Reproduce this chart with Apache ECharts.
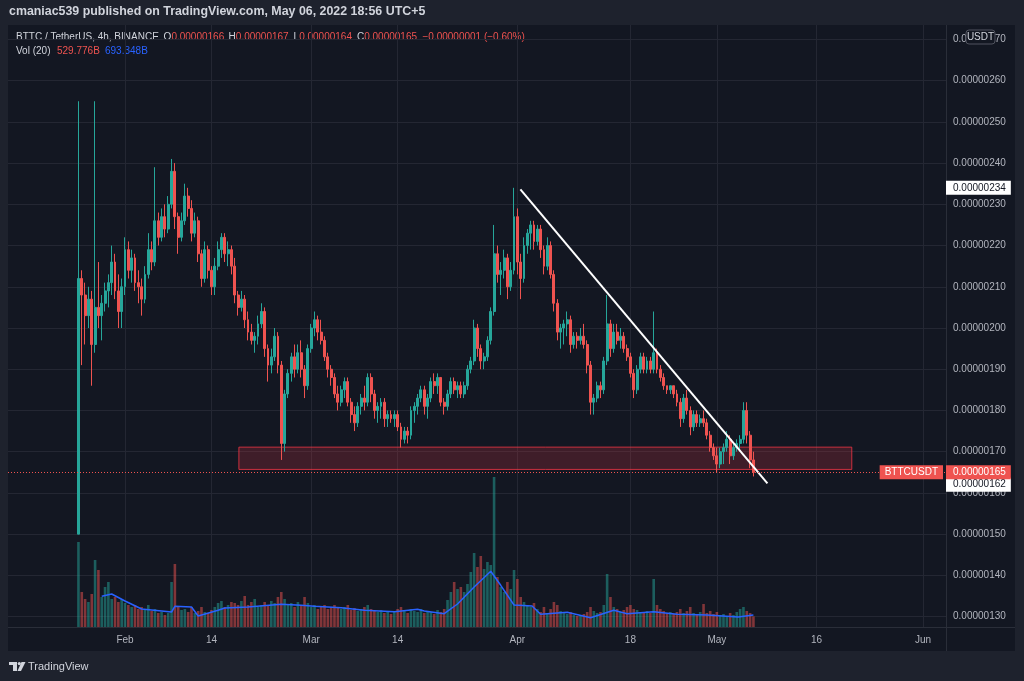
<!DOCTYPE html>
<html><head><meta charset="utf-8">
<script src="https://cdn.jsdelivr.net/npm/echarts@6/dist/echarts.min.js"></script>
<style>html,body{margin:0;padding:0;background:#1e222d;}#c{width:1024px;height:681px;}</style>
</head><body><div id="c"></div>
<script>
// ---- data (prices in units of 1e-9 USDT, i.e. 212 => 0.00000212) ----
const startTime = '2022-01-25 00:00';   // first candle open, 12h candles
const stepHours = 12;
const open = [150,212,208,203,207,196,205,203,206,209,211,216,209,204,210,219,214,217,211,210,207,213,219,216,226,222,227,224,230,238,227,222,226,232,229,223,226,218,212,219,214,210,215,219,222,218,219,215,208,205,207,202,199,197,198,201,204,195,191,193,198,191,172,184,189,193,190,194,190,186,195,200,202,199,197,193,190,188,184,182,185,187,182,179,177,181,183,182,188,184,180,181,182,178,179,178,179,176,173,175,174,180,181,183,185,181,183,187,186,188,182,181,184,187,185,186,184,186,190,192,200,195,192,193,197,204,218,213,214,217,210,214,227,216,212,220,223,225,221,224,219,215,220,213,206,199,200,201,202,196,198,197,198,196,191,182,183,186,185,192,201,195,199,197,198,195,193,189,185,190,193,190,192,190,194,190,188,186,185,186,184,182,178,183,180,176,179,177,178,177,174,171,169,167,170,171,173,169,171,172,173,180,174,168];
const close = [212,208,203,207,196,205,203,206,209,211,216,209,204,210,219,214,217,211,210,207,213,219,216,226,222,227,224,230,238,227,222,226,232,229,223,226,218,212,219,214,210,215,219,222,218,219,215,208,205,207,202,199,197,198,201,204,195,191,193,198,191,172,184,189,193,190,194,190,186,195,200,202,199,197,193,190,188,184,182,185,187,182,179,177,181,183,182,188,184,180,181,182,178,179,178,179,176,173,175,174,180,181,183,185,181,183,187,186,188,182,181,184,187,185,186,184,186,190,192,200,195,192,193,197,204,218,213,214,217,210,214,227,216,212,220,223,225,221,224,219,215,220,213,206,199,200,201,202,196,198,197,198,196,191,182,183,186,185,192,201,195,199,197,198,195,193,189,185,190,193,190,192,190,194,190,188,186,185,186,184,182,178,183,180,176,179,177,178,177,174,171,169,167,170,171,173,169,171,172,173,180,174,168,165];
const high = [255,214,211,210,209,255,216,208,211,213,220,218,213,212,222,221,219,218,214,212,215,223,221,239,228,229,230,232,241,240,228,228,235,234,231,228,227,219,221,220,215,217,221,223,223,221,220,217,209,209,208,204,201,199,203,206,205,196,195,200,199,192,185,190,194,196,196,197,191,196,201,204,203,202,198,194,191,189,186,186,188,188,183,181,182,184,186,189,189,185,182,183,183,180,180,180,180,177,176,176,181,182,184,186,186,184,188,189,189,188,183,185,188,188,187,187,187,191,193,202,201,196,194,198,205,225,220,216,219,218,216,234,229,218,222,224,226,226,225,225,220,222,221,214,207,201,202,204,203,199,199,200,201,197,192,184,187,187,193,208,202,201,201,200,199,196,194,190,191,194,194,193,193,204,195,191,189,186,186,186,185,183,184,185,181,180,180,179,180,178,175,172,171,171,172,175,174,172,173,174,182,182,175,170];
const low = [150,191,196,200,186,194,200,197,204,205,208,207,200,200,208,212,211,209,206,203,206,212,214,215,220,221,222,223,229,224,218,221,225,227,221,222,216,210,211,212,208,208,214,217,216,215,213,206,203,204,200,197,196,194,196,200,193,187,189,192,189,168,170,183,187,188,189,188,183,185,194,198,197,196,192,188,186,183,180,181,183,181,177,175,176,179,180,181,182,178,177,178,176,176,177,176,175,171,172,172,173,177,179,182,179,178,182,184,184,181,179,180,183,184,183,183,183,185,189,191,193,190,190,192,196,203,211,208,212,207,209,213,213,207,211,218,219,219,220,217,213,214,212,204,197,195,196,198,194,195,195,196,195,189,179,179,182,183,184,191,193,194,196,195,194,192,188,183,184,189,189,189,189,189,189,187,185,184,184,183,181,176,177,179,174,175,176,176,176,173,170,168,165,166,167,170,167,168,170,170,172,172,166,164];
// volume, billions BTTC
const volume = [4250,1750,1400,1250,1650,3350,2850,1500,2000,2250,1400,1500,1250,1400,1200,1100,1000,1100,900,1000,850,1100,800,900,700,750,600,700,2250,3150,1000,850,900,750,1000,700,800,1000,750,700,850,1000,1200,1300,1000,1100,1250,1200,1100,1300,1550,1100,1250,1400,1000,1100,1250,1100,1300,1200,1500,1750,1400,1100,1200,1000,1250,1100,1500,1200,1000,1100,900,1000,1100,900,1000,1100,1000,900,1000,1100,850,950,800,900,1000,1100,900,800,750,850,700,800,650,750,900,1000,800,700,900,800,750,900,700,800,750,650,850,750,900,1350,1750,2250,1900,2000,1750,2150,2750,3700,3000,3550,2900,3250,3100,7500,2500,2000,1750,2250,1900,2850,2400,1500,1250,1100,1000,1200,900,750,1000,700,900,1250,1100,800,700,650,750,600,550,600,650,750,1000,800,700,750,1100,2650,1500,1000,900,750,850,1000,1100,900,850,750,700,800,700,2400,1100,900,800,700,750,650,750,900,700,800,1000,700,650,750,1150,700,800,650,750,600,650,550,700,600,750,900,1000,800,700,530];
// Vol MA(20)
const maTimes = ['2022-01-28 12:00','2022-01-30 00:00','2022-02-01 00:00','2022-02-03 12:00','2022-02-06 12:00','2022-02-08 00:00','2022-02-08 12:00','2022-02-11 00:00','2022-02-12 00:00','2022-02-15 00:00','2022-02-16 00:00','2022-02-19 12:00','2022-02-24 12:00','2022-02-27 12:00','2022-03-01 12:00','2022-03-05 12:00','2022-03-09 00:00','2022-03-13 12:00','2022-03-17 00:00','2022-03-18 00:00','2022-03-21 00:00','2022-03-23 00:00','2022-03-25 12:00','2022-03-28 00:00','2022-03-29 12:00','2022-03-31 12:00','2022-04-03 05:00','2022-04-04 12:00','2022-04-08 12:00','2022-04-12 00:00','2022-04-15 12:00','2022-04-17 12:00','2022-04-21 12:00','2022-04-25 00:00','2022-04-29 12:00','2022-05-04 05:00','2022-05-06 12:00'];
const maValues = [1535,1650,1300,900,800,750,1035,1000,550,835,950,1000,1135,1085,1035,965,835,765,885,800,665,1150,2000,2785,2085,1100,1050,635,735,465,835,665,765,635,600,500,600];
const tickDates = ['2022-02-01 00:00','2022-02-14 00:00','2022-03-01 00:00','2022-03-14 00:00','2022-04-01 00:00','2022-04-18 00:00','2022-05-01 00:00','2022-05-16 00:00','2022-06-01 00:00'];
const tickLabels = ['Feb','14','Mar','14','Apr','18','May','16','Jun'];
const zone = {start:'2022-02-18 03:00', end:'2022-05-21 07:00', low:165.7, high:171.1};
const trendStart = ['2022-04-01 11:00', 233.6];
const trendEnd = ['2022-05-08 14:30', 162.3];
const trendLabels = [234, 162];
const lastPrice = 165;
const legendOHLC = {O:'0.00000166', H:'0.00000167', L:'0.00000164', C:'0.00000165', chg:'−0.00000001 (−0.60%)'};
const legendVol = {vol:'529.776B', ma:'693.348B'};

// ---- helpers ----
function t(s){const [d,h]=s.split(' ');const [Y,M,D]=d.split('-').map(Number);const [hh,mm]=h.split(':').map(Number);return Date.UTC(Y,M-1,D,hh,mm);}
const fmtP = v => '0.00000' + v;
const axisMin = t('2022-01-14 09:44');
const axisMax = t('2022-06-04 11:00');
const tickTimes = tickDates.map(t);
const t0 = t(startTime);

const candles = [], vols = [];
for (let i = 0; i < close.length; i++) {
  const ts = t0 + i * stepHours * 3600000;
  candles.push([ts, open[i], close[i], low[i], high[i]]);
  vols.push({value:[ts, volume[i]], itemStyle:{color: close[i] >= open[i] ? 'rgba(38,166,154,0.5)' : 'rgba(239,83,80,0.5)'}});
}
const maData = maTimes.map((s,i)=>[t(s), maValues[i]]);

const FONT = 'Liberation Sans, Arial, sans-serif';
const GRID_C = '#242733';
const lbl = '#b2b5be';

const chart = echarts.init(document.getElementById('c'), null, {renderer:'canvas'});
const axisBox = (txt, bg, fg) => ({position:'right', distance:0, formatter: txt, backgroundColor:bg, color:fg, fontSize:10, fontFamily:FONT, padding:[2,5,1,7], lineHeight:11});

chart.setOption({
  animation:false,
  backgroundColor:'#131722',
  grid:[
    {left:8, right:78, top:25, bottom:54},
    {left:8, right:78, top:39.4, bottom:64.4}
  ],
  xAxis:[
    {type:'value', gridIndex:0, min:axisMin, max:axisMax, scale:true,
     axisLine:{show:false}, axisTick:{show:false, customValues:tickTimes},
     axisLabel:{customValues:tickTimes, formatter:(v)=>{const k=tickTimes.indexOf(v);return k>=0?tickLabels[k]:'';}, color:lbl, fontSize:10, fontFamily:FONT, margin:8},
     splitLine:{show:true, lineStyle:{color:GRID_C, width:1}}},
    {type:'value', gridIndex:1, min:axisMin, max:axisMax, scale:true, show:false, splitLine:{show:false}}
  ],
  yAxis:[
    {type:'value', gridIndex:0, min:0, max:30100, show:false, splitLine:{show:false}},
    {type:'value', gridIndex:1, position:'right', min:130, max:270, interval:10,
     axisLine:{show:false}, axisTick:{show:false},
     axisLabel:{formatter:fmtP, color:lbl, fontSize:10, fontFamily:FONT, margin:7},
     splitLine:{show:true, lineStyle:{color:GRID_C, width:1}}}
  ],
  series:[
    {type:'bar', name:'Volume', xAxisIndex:0, yAxisIndex:0, data:vols, barWidth:2.6, silent:true},
    {type:'line', name:'Vol MA', xAxisIndex:0, yAxisIndex:0, data:maData, symbol:'none', lineStyle:{color:'#2962ff', width:1.5}, silent:true},
    {type:'candlestick', name:'BTTCUSDT', xAxisIndex:1, yAxisIndex:1, data:candles, encode:{x:0, y:[1,2,3,4]},
     barWidth:2.4, silent:true,
     itemStyle:{color:'#26a69a', color0:'#ef5350', borderColor:'#26a69a', borderColor0:'#ef5350', borderWidth:1},
     markArea:{silent:true, itemStyle:{color:'rgba(242,54,69,0.2)', borderColor:'rgba(242,54,69,0.8)', borderWidth:1},
       data:[[{coord:[t(zone.start), zone.high]},{coord:[t(zone.end), zone.low]}]]},
     markLine:{silent:true, symbol:['none','none'], animation:false,
       data:[
         [{coord:[t(trendStart[0]), trendStart[1]], lineStyle:{color:'#ffffff', width:2, type:'solid'}, label:{show:false}},
          {coord:[t(trendEnd[0]), trendEnd[1]]}],
         {yAxis:lastPrice, lineStyle:{color:'#ef5350', width:1, type:[1,2]}, label:{show:false}}
       ]},
     markPoint:{silent:true, symbol:'rect', symbolSize:0, animation:false,
       data:[
         {coord:[axisMax, trendLabels[0]], label:axisBox(fmtP(trendLabels[0]), '#ffffff', '#131722')},
         {coord:[axisMax, trendLabels[1]], label:axisBox(fmtP(trendLabels[1]), '#ffffff', '#131722')},
         {coord:[axisMax, lastPrice], label:axisBox(fmtP(lastPrice), '#ef5350', '#ffffff')},
         {coord:[axisMax, lastPrice], label:{position:'left', distance:3, formatter:'BTTCUSDT', backgroundColor:'#ef5350', color:'#ffffff', fontSize:10, fontFamily:FONT, padding:[2,5,1,5], lineHeight:11}}
       ]}
    }
  ],
  graphic:[
    {type:'rect', shape:{x:0,y:0,width:1024,height:25}, style:{fill:'#1e222d'}, silent:true},
    {type:'rect', shape:{x:0,y:651,width:1024,height:30}, style:{fill:'#1e222d'}, silent:true},
    {type:'rect', shape:{x:0,y:25,width:8,height:626}, style:{fill:'#1e222d'}, silent:true},
    {type:'rect', shape:{x:1015,y:25,width:9,height:626}, style:{fill:'#1e222d'}, silent:true},
    {type:'line', shape:{x1:946.5,y1:25,x2:946.5,y2:651}, style:{stroke:'#2a2e39', lineWidth:1}, silent:true},
    {type:'line', shape:{x1:8,y1:627.5,x2:1015,y2:627.5}, style:{stroke:'#2a2e39', lineWidth:1}, silent:true},
    {type:'text', x:9, y:12, style:{text:'cmaniac539 published on TradingView.com, May 06, 2022 18:56 UTC+5', fill:'#d1d4dc', font:'bold 12.4px '+FONT, textVerticalAlign:'middle'}, silent:true},
    {type:'text', x:16, y:37, style:{text:'BTTC / TetherUS, 4h, BINANCE', fill:'#d1d4dc', font:'10px '+FONT, textVerticalAlign:'middle'}, silent:true},
    ...[['O',163.6],['H',228.6],['L',293.6],['C',357]].map(([k,x])=>({type:'text', x:x, y:37, style:{rich:{a:{fill:'#d1d4dc', font:'10px '+FONT}, b:{fill:'#ef5350', font:'10px '+FONT}}, text:'{a|'+k+'}{b|'+legendOHLC[k]+'}', textVerticalAlign:'middle'}, silent:true})),
    {type:'text', x:422.5, y:37, style:{text:legendOHLC.chg, fill:'#ef5350', font:'10px '+FONT, textVerticalAlign:'middle'}, silent:true},
    {type:'text', x:16, y:51, style:{text:'Vol (20)', fill:'#d1d4dc', font:'10px '+FONT, textVerticalAlign:'middle'}, silent:true},
    {type:'text', x:57, y:51, style:{text:legendVol.vol, fill:'#ef5350', font:'10px '+FONT, textVerticalAlign:'middle'}, silent:true},
    {type:'text', x:105, y:51, style:{text:legendVol.ma, fill:'#2962ff', font:'10px '+FONT, textVerticalAlign:'middle'}, silent:true},
    {type:'rect', z:100, shape:{x:966,y:30,width:29,height:14,r:3}, style:{fill:'#131722', stroke:'#50535e', lineWidth:1}, silent:true},
    {type:'text', z:101, x:980.5, y:37, style:{text:'USDT', fill:'#d1d4dc', font:'10px '+FONT, textAlign:'center', textVerticalAlign:'middle'}, silent:true},
    {type:'polygon', shape:{points:[[9,662],[17,662],[17,671],[13,671],[13,665],[9,665]]}, style:{fill:'#d1d4dc'}, silent:true},
    {type:'circle', shape:{cx:19.3,cy:663.6,r:1.6}, style:{fill:'#d1d4dc'}, silent:true},
    {type:'polygon', shape:{points:[[21.5,662],[25.5,662],[21,671],[17.5,671]]}, style:{fill:'#d1d4dc'}, silent:true},
    {type:'text', x:28, y:667, style:{text:'TradingView', fill:'#d1d4dc', font:'11px '+FONT, textVerticalAlign:'middle'}, silent:true}
  ]
});
</script></body></html>
